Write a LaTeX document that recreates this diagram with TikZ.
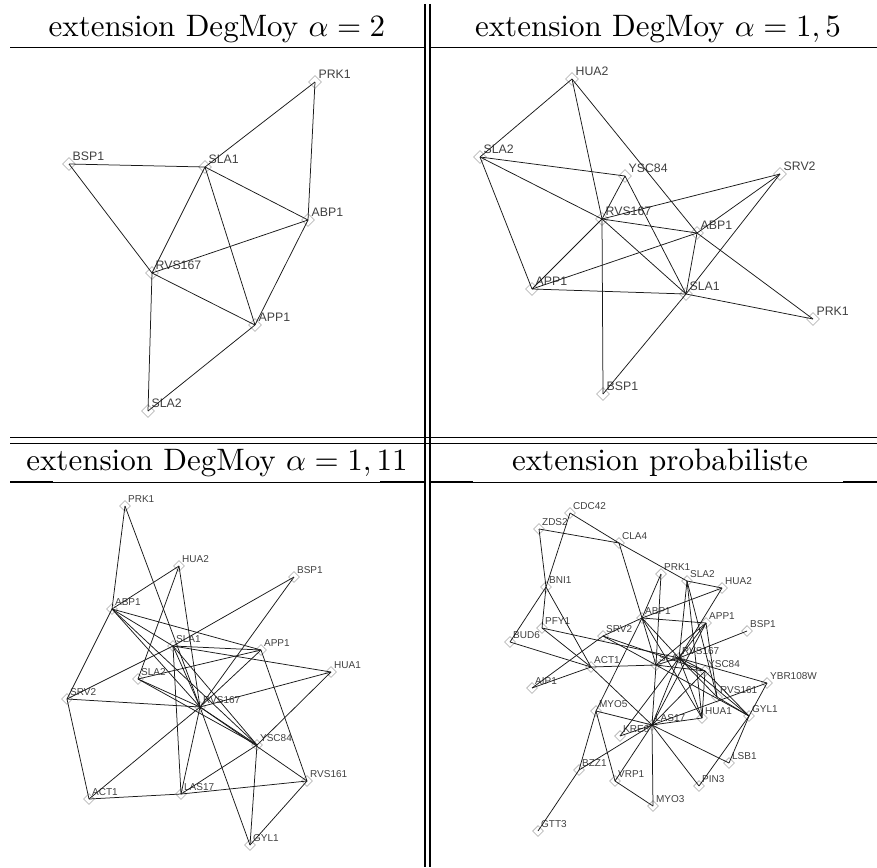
\documentclass[tikz,border=0pt]{standalone}
\usepackage{fontspec}
\newfontfamily\protfont{Liberation Sans}
\usetikzlibrary{shapes.geometric}
\tikzset{
	protnode/.style={
			shape=diamond,
			draw=gray!55,
			line width=0.8pt,
			minimum size=13pt,
			inner sep=0pt
		},
	protnodesmall/.style={
			protnode,
			minimum size=11pt
		},
	protlabel/.style={
			font=\protfont\fontsize{12.3}{13}\selectfont,
			text=black!75,
			inner sep=0pt
		},
	protlabelsmall/.style={
			protlabel,
			font=\protfont\fontsize{10}{11}\selectfont
		},
	edgeline/.style={
			draw=black!90,
			line width=0.75pt
		}
}
\tikzset{
	titletext/.style={font=\fontsize{10}{12}\selectfont, anchor=base, scale=3.1, transform shape},
	rulethin/.style={line width=1pt},
	rulethick/.style={line width=1.7pt}
}

\begin{document}
\begin{tikzpicture}[x=1pt,y=-1pt]
  \useasboundingbox (0,0) rectangle (877,867);

  % table rules
  \draw[rulethick] (425,4) -- (425,867);
  \draw[rulethick] (430,4) -- (430,867);
  \draw[rulethin] (10,47.5) -- (425,47.5);
  \draw[rulethin] (430,47.5) -- (877,47.5);
  \draw[rulethick] (10,47.5) -- (45,47.5) (390,47.5) -- (425,47.5) (430,47.5) -- (445,47.5);
  \draw[rulethick] (10,437.5) -- (877,437.5);
  \draw[rulethin] (10,443) -- (877,443);
  \draw[rulethin] (10,482) -- (425,482);
  \draw[rulethin] (430,482) -- (877,482);
  \draw[rulethick] (10,482) -- (53,482) (380,482) -- (425,482) (430,482) -- (473,482) (843,482) -- (877,482);

  % titles
  \node[titletext] (t1) at (217,36.5) {extension DegMoy $\alpha=2$};
  \node[titletext] (t2) at (658,36.5) {extension DegMoy $\alpha=1,5$};
  \node[titletext] (t3) at (217,470) {extension DegMoy $\alpha=1,11$};
  \node[titletext] (t4) at (660,470) {extension probabiliste};

  % graph alpha = 2
  \node[protnode, label={[protlabel]above right:PRK1}] (a-PRK1) at (315,82) {};
  \node[protnode, label={[protlabel]above right:BSP1}] (a-BSP1) at (69,164) {};
  \node[protnode, label={[protlabel]above right:SLA1}] (a-SLA1) at (205,167) {};
  \node[protnode, label={[protlabel]above right:ABP1}] (a-ABP1) at (308,220) {};
  \node[protnode, label={[protlabel]above right:RVS167}] (a-RVS167) at (152,273) {};
  \node[protnode, label={[protlabel]above right:APP1}] (a-APP1) at (255,325) {};
  \node[protnode, label={[protlabel]above right:SLA2}] (a-SLA2) at (148,411) {};
  \foreach \s/\t in {PRK1/SLA1, PRK1/ABP1, BSP1/SLA1, BSP1/RVS167, SLA1/ABP1,
      SLA1/RVS167, SLA1/APP1, ABP1/RVS167, ABP1/APP1, RVS167/APP1,
      RVS167/SLA2, APP1/SLA2}
    \draw[edgeline] (a-\s.center) -- (a-\t.center);

  % graph alpha = 1,5
  \node[protnode, label={[protlabel]above right:HUA2}] (b-HUA2) at (572,79) {};
  \node[protnode, label={[protlabel]above right:SLA2}] (b-SLA2) at (480,157) {};
  \node[protnode, label={[protlabel]above right:YSC84}] (b-YSC84) at (625,176) {};
  \node[protnode, label={[protlabel]above right:SRV2}] (b-SRV2) at (780,174) {};
  \node[protnode, label={[protlabel]above right:RVS167}] (b-RVS167) at (602,219) {};
  \node[protnode, label={[protlabel]above right:ABP1}] (b-ABP1) at (697,233) {};
  \node[protnode, label={[protlabel]above right:APP1}] (b-APP1) at (532,289) {};
  \node[protnode, label={[protlabel]above right:SLA1}] (b-SLA1) at (686,294) {};
  \node[protnode, label={[protlabel]above right:PRK1}] (b-PRK1) at (813,319) {};
  \node[protnode, label={[protlabel]above right:BSP1}] (b-BSP1) at (603,394) {};
  \foreach \s/\t in {HUA2/SLA2, HUA2/RVS167, HUA2/ABP1, ABP1/PRK1, SLA2/YSC84,
      SLA2/RVS167, SLA2/APP1, YSC84/RVS167, YSC84/SLA1, SRV2/RVS167,
      SRV2/ABP1, SRV2/SLA1, RVS167/ABP1, RVS167/APP1, RVS167/SLA1,
      RVS167/BSP1, ABP1/APP1, ABP1/SLA1, APP1/SLA1, SLA1/PRK1, SLA1/BSP1}
    \draw[edgeline] (b-\s.center) -- (b-\t.center);

  % graph alpha = 1,11
  \node[protnodesmall, label={[protlabelsmall]above right:PRK1}] (c-PRK1) at (125,506) {};
  \node[protnodesmall, label={[protlabelsmall]above right:HUA2}] (c-HUA2) at (179,566) {};
  \node[protnodesmall, label={[protlabelsmall]above right:BSP1}] (c-BSP1) at (294,577) {};
  \node[protnodesmall, label={[protlabelsmall]above right:ABP1}] (c-ABP1) at (112,609) {};
  \node[protnodesmall, label={[protlabelsmall]above right:SLA1}] (c-SLA1) at (173,646) {};
  \node[protnodesmall, label={[protlabelsmall]above right:APP1}] (c-APP1) at (261,650) {};
  \node[protnodesmall, label={[protlabelsmall]above right:HUA1}] (c-HUA1) at (331,672) {};
  \node[protnodesmall, label={[protlabelsmall]above right:SLA2}] (c-SLA2) at (138,679) {};
  \node[protnodesmall, label={[protlabelsmall]above right:SRV2}] (c-SRV2) at (67,699) {};
  \node[protnodesmall, label={[protlabelsmall]above right:RVS167}] (c-RVS167) at (200,707) {};
  \node[protnodesmall, label={[protlabelsmall]above right:YSC84}] (c-YSC84) at (257,745) {};
  \node[protnodesmall, label={[protlabelsmall]above right:RVS161}] (c-RVS161) at (307,781) {};
  \node[protnodesmall, label={[protlabelsmall]above right:ACT1}] (c-ACT1) at (89,799) {};
  \node[protnodesmall, label={[protlabelsmall]above right:LAS17}] (c-LAS17) at (181,794) {};
  \node[protnodesmall, label={[protlabelsmall]above right:GYL1}] (c-GYL1) at (250,845) {};
  \foreach \s/\t in {PRK1/ABP1, PRK1/RVS167, HUA2/ABP1, HUA2/SLA2, HUA2/RVS167,
      BSP1/SLA1, BSP1/RVS167, ABP1/SRV2, ABP1/SLA1, ABP1/APP1, ABP1/RVS167,
      ABP1/YSC84, SLA1/SRV2, SLA1/APP1, SLA1/HUA1, SLA1/LAS17, SLA1/RVS167,
      SLA1/YSC84, APP1/SLA2, APP1/RVS167, APP1/RVS161, HUA1/RVS167,
      HUA1/YSC84, SLA2/RVS167, SLA2/YSC84, SRV2/RVS167, SRV2/ACT1,
      ACT1/LAS17, ACT1/RVS167, LAS17/RVS167, LAS17/YSC84, LAS17/RVS161,
      RVS167/GYL1, RVS167/YSC84, RVS167/RVS161, YSC84/GYL1, RVS161/GYL1}
    \draw[edgeline] (c-\s.center) -- (c-\t.center);

  % graph probabiliste
  \node[protnodesmall, label={[protlabelsmall]above right:CDC42}] (d-CDC42) at (570,513) {};
  \node[protnodesmall, label={[protlabelsmall]above right:ZDS2}] (d-ZDS2) at (539,529) {};
  \node[protnodesmall, label={[protlabelsmall]above right:CLA4}] (d-CLA4) at (619,543) {};
  \node[protnodesmall, label={[protlabelsmall]above right:PRK1}] (d-PRK1) at (661,574) {};
  \node[protnodesmall, label={[protlabelsmall]above right:SLA2}] (d-SLA2) at (687,581) {};
  \node[protnodesmall, label={[protlabelsmall]above right:HUA2}] (d-HUA2) at (722,588) {};
  \node[protnodesmall, label={[protlabelsmall]above right:BNI1}] (d-BNI1) at (546,587) {};
  \node[protnodesmall, label={[protlabelsmall]above right:ABP1}] (d-ABP1) at (642,618) {};
  \node[protnodesmall, label={[protlabelsmall]above right:APP1}] (d-APP1) at (706,623) {};
  \node[protnodesmall, label={[protlabelsmall]above right:BSP1}] (d-BSP1) at (747,631) {};
  \node[protnodesmall, label={[protlabelsmall]above right:PFY1}] (d-PFY1) at (542,628) {};
  \node[protnodesmall, label={[protlabelsmall]above right:BUD6}] (d-BUD6) at (510,642) {};
  \node[protnodesmall, label={[protlabelsmall]above right:SRV2}] (d-SRV2) at (603,636) {};
  \node[protnodesmall, label={[protlabelsmall]above right:RVS167}] (d-RVS167) at (679,658) {};
  \node[protnodesmall, label={[protlabelsmall]above right:SLA1}] (d-SLA1) at (656,665) {};
  \node[protnodesmall, label={[protlabelsmall]above right:YSC84}] (d-YSC84) at (705,671) {};
  \node[protnodesmall, label={[protlabelsmall]above right:ACT1}] (d-ACT1) at (591,667) {};
  \node[protnodesmall, label={[protlabelsmall]above right:YBR108W}] (d-YBR108W) at (767,683) {};
  \node[protnodesmall, label={[protlabelsmall]above right:AIP1}] (d-AIP1) at (532,688) {};
  \node[protnodesmall, label={[protlabelsmall]above right:RVS161}] (d-RVS161) at (717,697) {};
  \node[protnodesmall, label={[protlabelsmall]above right:MYO5}] (d-MYO5) at (596,711) {};
  \node[protnodesmall, label={[protlabelsmall]above right:HUA1}] (d-HUA1) at (702,718) {};
  \node[protnodesmall, label={[protlabelsmall]above right:GYL1}] (d-GYL1) at (749,716) {};
  \node[protnodesmall, label={[protlabelsmall]above right:LAS17}] (d-LAS17) at (652,725) {};
  \node[protnodesmall, label={[protlabelsmall]above right:KRE6}] (d-KRE6) at (620,736) {};
  \node[protnodesmall, label={[protlabelsmall]above right:LSB1}] (d-LSB1) at (729,763) {};
  \node[protnodesmall, label={[protlabelsmall]above right:BZZ1}] (d-BZZ1) at (579,770) {};
  \node[protnodesmall, label={[protlabelsmall]above right:VRP1}] (d-VRP1) at (615,781) {};
  \node[protnodesmall, label={[protlabelsmall]above right:PIN3}] (d-PIN3) at (699,786) {};
  \node[protnodesmall, label={[protlabelsmall]above right:MYO3}] (d-MYO3) at (653,806) {};
  \node[protnodesmall, label={[protlabelsmall]above right:GTT3}] (d-GTT3) at (538,831) {};
  \foreach \s/\t in {CDC42/CLA4, CLA4/SLA2, CDC42/BNI1, ZDS2/CLA4, ZDS2/BNI1,
      BNI1/PFY1, BNI1/BUD6, BNI1/ACT1, CLA4/ABP1, PFY1/RVS167, PFY1/ACT1,
      BUD6/ACT1, SRV2/AIP1, ACT1/AIP1, SRV2/ABP1, ABP1/HUA2, SRV2/SLA1,
      SRV2/YSC84, ACT1/SLA1, ACT1/LAS17, ABP1/PRK1, ABP1/APP1, ABP1/MYO5,
      ABP1/SLA1, ABP1/RVS167, ABP1/HUA1, PRK1/SLA1, SLA2/HUA2, SLA2/RVS167,
      SLA2/HUA1, SLA2/RVS161, HUA2/RVS167, APP1/RVS167, APP1/SLA1,
      APP1/RVS161, APP1/LAS17, BSP1/RVS167, RVS167/SLA1, RVS167/YSC84,
      RVS167/YBR108W, RVS167/RVS161, RVS167/GYL1, RVS167/HUA1, RVS167/LAS17,
      RVS167/KRE6, SLA1/YSC84, SLA1/LAS17, SLA1/GYL1, YSC84/LAS17,
      YSC84/GYL1, YSC84/HUA1, YBR108W/GYL1, LAS17/YBR108W, GYL1/LSB1,
      GYL1/PIN3, GYL1/RVS161, LAS17/LSB1, LAS17/PIN3, LAS17/MYO3, LAS17/VRP1,
      LAS17/BZZ1, LAS17/KRE6, LAS17/HUA1, LAS17/MYO5, MYO5/BZZ1, MYO5/VRP1,
      VRP1/MYO3, BZZ1/GTT3}
    \draw[edgeline] (d-\s.center) -- (d-\t.center);

\end{tikzpicture}
\end{document}
